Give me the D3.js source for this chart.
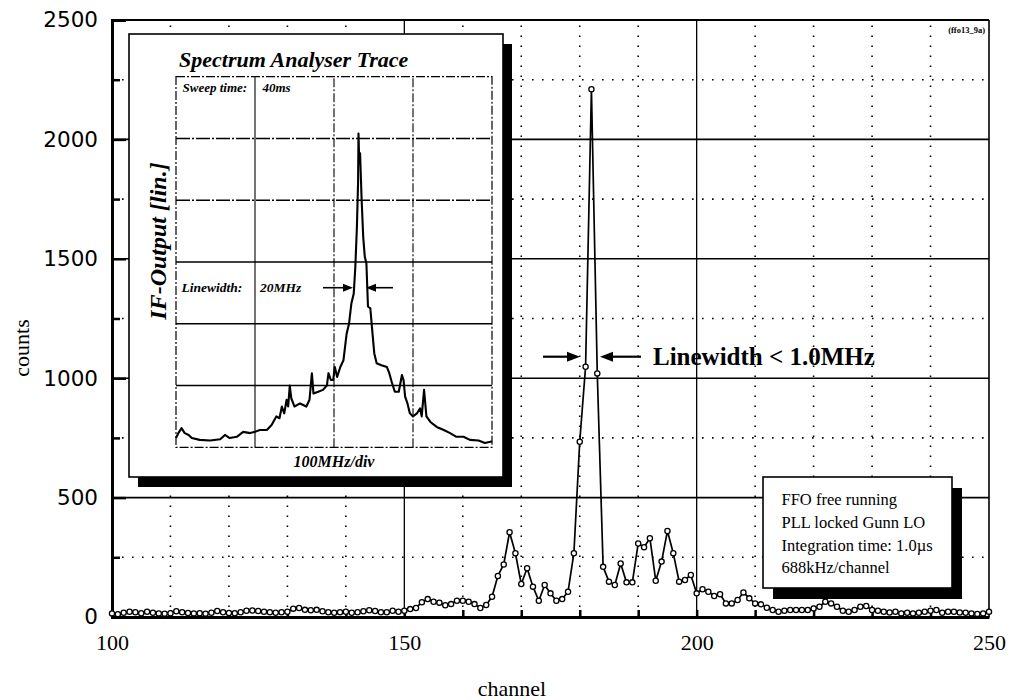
<!DOCTYPE html>
<html>
<head>
<meta charset="utf-8">
<script src="https://cdn.jsdelivr.net/npm/d3@7/dist/d3.min.js"></script>
<style>
  html, body { margin: 0; padding: 0; background: #fff; }
  svg { display: block; }
</style>
</head>
<body>
<svg id="chart" width="1011" height="700"></svg>
<script>
// ---- main spectrum: counts per channel (channels 100..250) ----
const channels = d3.range(100, 251);
const counts = [
  15, 12, 18, 22, 20, 16, 22, 18, 15, 14,   // 100-109
  16, 24, 20, 17, 15, 16, 14, 18, 25, 20,   // 110-119
  17, 16, 20, 26, 27, 25, 22, 20, 18, 20,   // 120-129
  22, 35, 38, 30, 28, 30, 24, 20, 18, 20,   // 130-139
  22, 18, 20, 24, 28, 25, 20, 20, 26, 22,   // 140-149
  26, 33, 38, 62, 75, 64, 60, 49, 54, 68,   // 150-159
  68, 64, 54, 38, 50, 85, 172, 220, 355, 267, // 160-169
  138, 204, 127, 68, 134, 99, 68, 75, 106, 267, // 170-179
  734, 1048, 2210, 1020, 210, 148, 134, 224, 145, 145, // 180-189
  308, 292, 330, 152, 232, 360, 267, 148, 155, 176, // 190-199
  99, 116, 106, 88, 95, 57, 57, 71, 103, 78, // 200-209
  57, 53, 39, 29, 22, 26, 29, 29, 29, 29,   // 210-219
  36, 43, 64, 57, 43, 26, 22, 29, 43, 46,   // 220-229
  29, 26, 22, 19, 22, 15, 18, 15, 18, 22,   // 230-239
  26, 29, 18, 22, 22, 19, 18, 15, 13, 15,   // 240-249
  22                                        // 250
];

const xTickLabels = [100, 150, 200, 250];
const yTickLabels = [0, 500, 1000, 1500, 2000, 2500];

// ---- inset: spectrum analyser trace (frequency in MHz, level in divisions) ----
const traceFreq = [0, 3, 7, 11, 16, 20, 30, 43, 56, 62, 68, 77, 85, 94, 100, 106, 115, 121, 127, 131,
  134, 137, 140, 142, 144, 146, 150, 157, 165, 169, 172, 174, 180, 186, 191, 193, 196, 199, 201, 204,
  208, 212, 216, 219, 222, 225, 227, 229, 230.5, 231, 232, 233, 235, 237, 239, 241, 243, 246, 248, 251,
  254, 260, 267, 270, 273, 277, 282, 286, 288, 290, 293, 296, 300, 305, 309, 311, 314, 317, 322, 330,
  339, 347, 355, 364, 372, 383, 391, 398, 400];
const traceLevel = [0.15, 0.23, 0.31, 0.23, 0.2, 0.15, 0.12, 0.11, 0.13, 0.2, 0.15, 0.17, 0.25, 0.23, 0.25, 0.28, 0.28, 0.36, 0.5, 0.47,
  0.66, 0.55, 0.77, 0.66, 1.0, 0.79, 0.66, 0.71, 0.66, 0.77, 1.2, 0.87, 0.9, 0.93, 1.0, 1.2, 1.09, 1.09, 1.3, 1.14,
  1.3, 1.41, 1.84, 2.0, 2.33, 2.49, 2.92, 3.57, 4.3, 5.08, 4.6, 4.76, 4.0, 3.4, 3.08, 2.98, 2.28, 2.25, 1.95, 1.52,
  1.36, 1.33, 1.3, 1.2, 1.06, 0.9, 0.9, 1.17, 1.09, 0.82, 0.71, 0.55, 0.5, 0.55, 0.63, 0.5, 0.93, 0.5, 0.41, 0.33,
  0.28, 0.23, 0.17, 0.17, 0.12, 0.11, 0.07, 0.09, 0.1];

const legendLines = [
  "FFO free running",
  "PLL locked Gunn LO",
  "Integration time: 1.0\u00b5s",
  "688kHz/channel"
];

const SERIF = "'Liberation Serif', 'Times New Roman', serif";
const SANS = "'DejaVu Sans', sans-serif";

const svg = d3.select("#chart");

// ---- scales ----
const x = d3.scaleLinear().domain([100, 250]).range([112, 989]);
const y = d3.scaleLinear().domain([0, 2500]).range([617, 20]);

// ---- grid ----
const grid = svg.append("g");
const minorX = d3.range(110, 250, 10).filter(c => c % 50 !== 0);
const majorX = [150, 200];
const minorY = d3.range(250, 2500, 500);
const majorY = [500, 1000, 1500, 2000];

grid.selectAll(".vdot").data(minorX).join("line")
  .attr("x1", d => x(d)).attr("x2", d => x(d))
  .attr("y1", y(0)).attr("y2", y(2500))
  .attr("stroke", "#000").attr("stroke-width", 1.6)
  .attr("stroke-dasharray", "1.6,8.4");
grid.selectAll(".hdot").data(minorY).join("line")
  .attr("x1", x(100)).attr("x2", x(250))
  .attr("y1", d => y(d)).attr("y2", d => y(d))
  .attr("stroke", "#000").attr("stroke-width", 1.6)
  .attr("stroke-dasharray", "1.6,8.4");
grid.selectAll(".vsol").data(majorX).join("line")
  .attr("x1", d => x(d)).attr("x2", d => x(d))
  .attr("y1", y(0)).attr("y2", y(2500))
  .attr("stroke", "#000").attr("stroke-width", 1.3);
grid.selectAll(".hsol").data(majorY).join("line")
  .attr("x1", x(100)).attr("x2", x(250))
  .attr("y1", d => y(d)).attr("y2", d => y(d))
  .attr("stroke", "#000").attr("stroke-width", 1.6);

// ---- frame ----
svg.append("line").attr("x1", x(100)).attr("x2", x(250)).attr("y1", y(2500)).attr("y2", y(2500))
  .attr("stroke", "#000").attr("stroke-width", 2);
svg.append("line").attr("x1", x(250)).attr("x2", x(250)).attr("y1", y(0)).attr("y2", y(2500))
  .attr("stroke", "#000").attr("stroke-width", 1.6);

// ---- axes ----
const yAxis = d3.axisLeft(y).tickValues(yTickLabels).tickSize(-14).tickPadding(14)
  .tickFormat(d3.format("d"));
const gy = svg.append("g").attr("transform", `translate(${x(100)},0)`).call(yAxis);
gy.select(".domain").attr("stroke-width", 3);
gy.selectAll(".tick line").attr("stroke-width", 2.5);
gy.selectAll(".tick text").attr("font-family", SANS).attr("font-size", 21.5).attr("fill", "#000");

const yMinor = d3.axisLeft(y).tickValues(minorY).tickSize(-8).tickFormat("");
const gym = svg.append("g").attr("transform", `translate(${x(100)},0)`).call(yMinor);
gym.select(".domain").remove();
gym.selectAll(".tick line").attr("stroke-width", 2.5);

const xAxis = d3.axisBottom(x).tickValues(xTickLabels).tickSize(0).tickPadding(17)
  .tickFormat(d3.format("d"));
const gx = svg.append("g").attr("transform", `translate(0,${y(0)})`).call(xAxis);
gx.select(".domain").attr("stroke-width", 3);
gx.selectAll(".tick text").attr("font-family", SERIF).attr("font-size", 22).attr("fill", "#000");

const xMinor = d3.axisBottom(x).tickValues(d3.range(110, 250, 10)).tickSize(-7).tickFormat("");
const gxm = svg.append("g").attr("transform", `translate(0,${y(0)})`).call(xMinor);
gxm.select(".domain").remove();
gxm.selectAll(".tick line").attr("stroke-width", 2.5);

svg.append("text").attr("x", 512).attr("y", 696).attr("text-anchor", "middle")
  .attr("font-family", SERIF).attr("font-size", 22).text("channel");
svg.append("text").attr("transform", "translate(29,348) rotate(-90)").attr("text-anchor", "middle")
  .attr("font-family", SERIF).attr("font-size", 22).text("counts");

svg.append("text").attr("x", 985).attr("y", 33).attr("text-anchor", "end")
  .attr("font-family", SERIF).attr("font-weight", "bold").attr("font-size", 8.5).text("(ffo13_9a)");

// ---- inset panel ----
const inset = svg.append("g");
const box = { x0: 129, y0: 34, x1: 503, y1: 477 };
inset.append("rect").attr("x", box.x0 + 9).attr("y", box.y0 + 10)
  .attr("width", box.x1 - box.x0).attr("height", box.y1 - box.y0).attr("fill", "#000");
inset.append("rect").attr("x", box.x0).attr("y", box.y0)
  .attr("width", box.x1 - box.x0).attr("height", box.y1 - box.y0)
  .attr("fill", "#fff").attr("stroke", "#000").attr("stroke-width", 1.6);

const ix = d3.scaleLinear().domain([0, 400]).range([176, 492]);
const iy = d3.scaleLinear().domain([0, 6]).range([447.3, 76.7]);

// inset graticule
inset.selectAll(".ih").data([1, 2, 3, 4, 5]).join("line")
  .attr("x1", ix(0)).attr("x2", ix(400)).attr("y1", d => iy(d)).attr("y2", d => iy(d))
  .attr("stroke", "#000").attr("stroke-width", 1.5)
  .attr("stroke-dasharray", d => d >= 4 ? "14,2,2,2" : null);
inset.selectAll(".iv").data([100, 200, 300]).join("line")
  .attr("x1", d => ix(d)).attr("x2", d => ix(d)).attr("y1", iy(0)).attr("y2", iy(6))
  .attr("stroke", "#000").attr("stroke-width", 1.1)
  .attr("stroke-dasharray", d => d === 100 ? null : "9,2,2,2");
inset.append("rect").attr("x", ix(0)).attr("y", iy(6))
  .attr("width", ix(400) - ix(0)).attr("height", iy(0) - iy(6))
  .attr("fill", "none").attr("stroke", "#000").attr("stroke-width", 1.2)
  .attr("stroke-dasharray", "9,2,2,2");

const traceLine = d3.line().x((d, i) => ix(traceFreq[i])).y(d => iy(d));
inset.append("path").datum(traceLevel).attr("d", traceLine)
  .attr("fill", "none").attr("stroke", "#000").attr("stroke-width", 2.1)
  .attr("stroke-linejoin", "round");

inset.append("text").attr("x", 179).attr("y", 66.5)
  .attr("font-family", SERIF).attr("font-weight", "bold").attr("font-style", "italic")
  .attr("font-size", 22).text("Spectrum Analyser Trace");
inset.append("text").attr("x", 182.5).attr("y", 92)
  .attr("font-family", SERIF).attr("font-weight", "bold").attr("font-style", "italic")
  .attr("font-size", 13).text("Sweep time:");
inset.append("text").attr("x", 262.5).attr("y", 92)
  .attr("font-family", SERIF).attr("font-weight", "bold").attr("font-style", "italic")
  .attr("font-size", 13).text("40ms");
inset.append("text").attr("x", 181.5).attr("y", 292)
  .attr("font-family", SERIF).attr("font-weight", "bold").attr("font-style", "italic")
  .attr("font-size", 13.5).text("Linewidth:");
inset.append("text").attr("x", 260).attr("y", 292)
  .attr("font-family", SERIF).attr("font-weight", "bold").attr("font-style", "italic")
  .attr("font-size", 13.5).text("20MHz");
inset.append("text").attr("x", 334).attr("y", 467)
  .attr("text-anchor", "middle")
  .attr("font-family", SERIF).attr("font-weight", "bold").attr("font-style", "italic")
  .attr("font-size", 16).text("100MHz/div");
inset.append("text").attr("transform", "translate(166,241) rotate(-90)")
  .attr("text-anchor", "middle")
  .attr("font-family", SERIF).attr("font-weight", "bold").attr("font-style", "italic")
  .attr("font-size", 24).text("IF-Output [lin.]");

// horizontal arrow with a filled head at (tipX, yy), coming from tailX
function arrow(g, tailX, tipX, yy, w, head, half) {
  const dir = Math.sign(tipX - tailX);
  g.append("line").attr("x1", tailX).attr("x2", tipX - dir * head).attr("y1", yy).attr("y2", yy)
    .attr("stroke", "#000").attr("stroke-width", w);
  g.append("path")
    .attr("d", `M${tipX},${yy} L${tipX - dir * head},${yy - half} L${tipX - dir * head},${yy + half} Z`)
    .attr("fill", "#000");
}
arrow(inset, 323, 353, 287.7, 1.6, 10, 4);
arrow(inset, 393, 366, 287.7, 1.6, 10, 4);

// ---- main trace ----
const line = d3.line().x((d, i) => x(channels[i])).y(d => y(d));
svg.append("path").datum(counts).attr("d", line)
  .attr("fill", "none").attr("stroke", "#000").attr("stroke-width", 1.7)
  .attr("stroke-linejoin", "round");
svg.selectAll(".pt").data(counts).join("circle")
  .attr("cx", (d, i) => x(channels[i])).attr("cy", d => y(d)).attr("r", 2.6)
  .attr("fill", "#fff").attr("stroke", "#000").attr("stroke-width", 1.3);

// linewidth annotation around the peak
const ann = svg.append("g");
arrow(ann, 543, 580, 356.7, 2.2, 13, 5);
arrow(ann, 641, 600, 356.7, 2.2, 13, 5);
ann.append("text").attr("x", 653).attr("y", 365)
  .attr("font-family", SERIF).attr("font-weight", "bold").attr("font-size", 25)
  .text("Linewidth < 1.0MHz");

// ---- parameter box ----
const leg = svg.append("g");
const lb = { x0: 763, y0: 477, x1: 952, y1: 588 };
leg.append("rect").attr("x", lb.x0 + 10).attr("y", lb.y0 + 11)
  .attr("width", lb.x1 - lb.x0).attr("height", lb.y1 - lb.y0).attr("fill", "#000");
leg.append("rect").attr("x", lb.x0).attr("y", lb.y0)
  .attr("width", lb.x1 - lb.x0).attr("height", lb.y1 - lb.y0)
  .attr("fill", "#fff").attr("stroke", "#000").attr("stroke-width", 1.6);
leg.selectAll(".lt").data(legendLines).join("text")
  .attr("x", 781.5).attr("y", (d, i) => 505 + i * 22.8)
  .attr("font-family", SERIF).attr("font-size", 16.5).text(d => d);
</script>
</body>
</html>
